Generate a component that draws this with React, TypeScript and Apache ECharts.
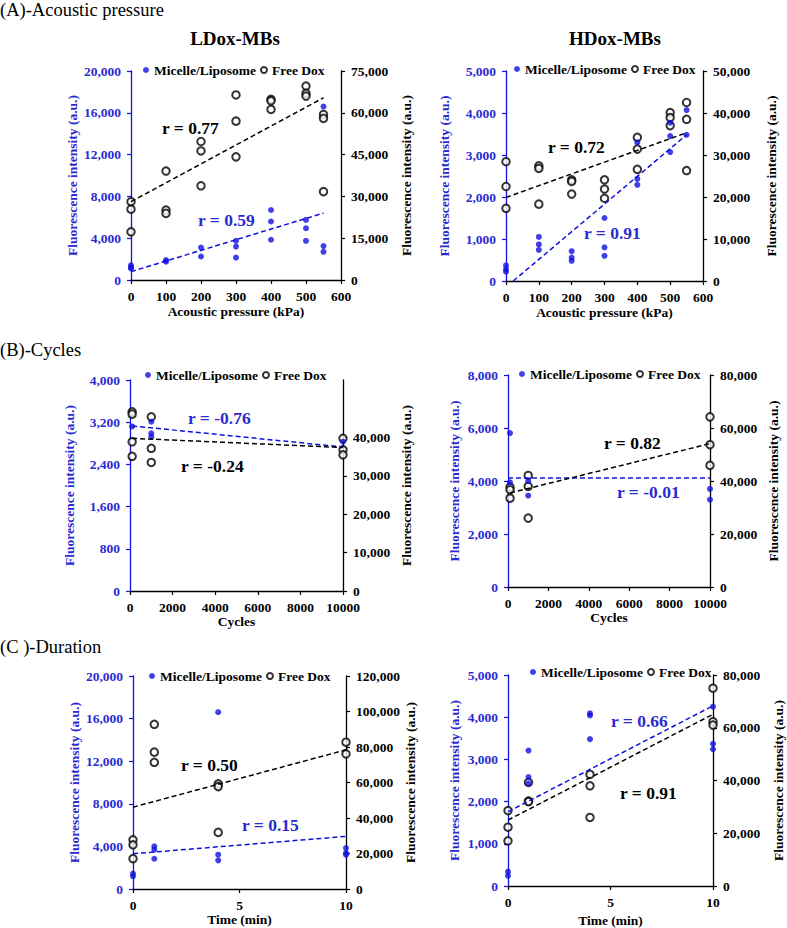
import React, { useEffect, useRef } from "react";
import * as echarts from "echarts";

const BLUE = "#1010e0";
const BLUE_TXT = "#2a2ad2";
const FONT = "Liberation Serif";

// ---------- (A) Acoustic pressure ----------
const ldoxPressBlue = [[0,1400],[0,1200],[0,1100],[100,1900],[100,1750],[200,3100],[200,2250],[300,3750],[300,3200],[300,2150],[400,6700],[400,5600],[400,3850],[500,5750],[500,4950],[500,3750],[550,16600],[550,3250],[550,2700]];
const ldoxPressFree = [[0,28100],[0,25400],[0,17300],[100,39100],[100,25100],[100,23900],[200,49700],[200,46300],[200,33800],[300,66400],[300,57000],[300,44200],[400,64800],[400,64300],[400,61200],[500,69600],[500,67000],[500,66000],[550,59400],[550,58000],[550,31700]];
const ldoxPressBlueFit = [[0,800],[550,6400]];
const ldoxPressFreeFit = [[0,28100],[550,65400]];

const hdoxPressBlue = [[0,370],[0,280],[0,220],[100,1050],[100,870],[100,740],[200,710],[200,560],[200,480],[300,1500],[300,800],[300,600],[400,3300],[400,2430],[400,2290],[500,3770],[500,3450],[500,3070],[550,4070],[550,3480]];
const hdoxPressFree = [[0,28400],[0,22500],[0,17300],[100,27400],[100,26800],[100,18300],[200,24100],[200,23700],[200,20700],[300,24100],[300,21900],[300,19700],[400,34200],[400,31400],[400,26600],[500,40100],[500,38900],[500,37000],[550,42500],[550,38500],[550,26300]];
const hdoxPressBlueFit = [[22,0],[550,3480]];
const hdoxPressFreeFit = [[0,19900],[550,35300]];

// ---------- (B) Cycles ----------
const ldoxCycBlue = [[100,3120],[1000,3210],[1000,2990],[1000,2920],[10000,2830]];
const ldoxCycFree = [[100,46700],[100,46100],[100,38900],[100,35100],[1000,45400],[1000,37200],[1000,33500],[10000,39800],[10000,36800],[10000,35500]];
const ldoxCycBlueFit = [[100,3130],[10000,2730]];
const ldoxCycFreeFit = [[100,39800],[10000,37400]];

const hdoxCycBlue = [[100,5810],[100,3950],[1000,3990],[1000,3450],[10000,3700],[10000,3300]];
const hdoxCycFree = [[100,37700],[100,36700],[100,33500],[1000,42100],[1000,38000],[1000,26000],[10000,64200],[10000,53700],[10000,45900]];
const hdoxCycBlueFit = [[0,4110],[10000,4110]];
const hdoxCycFreeFit = [[100,35500],[10000,54100]];

// ---------- (C) Duration ----------
const ldoxTimeBlue = [[0,1440],[0,1190],[1,4000],[1,3690],[1,2840],[4,16600],[4,3220],[4,2690],[10,3840],[10,3380],[10,3220]];
const ldoxTimeFree = [[0,27700],[0,24900],[0,17100],[1,92800],[1,77100],[1,71400],[4,59200],[4,57700],[4,31900],[10,82700],[10,76100]];
const ldoxTimeBlueFit = [[0,3310],[10,4940]];
const ldoxTimeFreeFit = [[0,46100],[10,78400]];

const hdoxTimeBlue = [[0,340],[0,240],[1,3210],[1,2580],[1,2430],[4,4090],[4,4040],[4,3480],[10,4250],[10,3370],[10,3240]];
const hdoxTimeFree = [[0,28600],[0,22300],[0,17100],[1,39300],[1,32200],[1,32000],[4,42300],[4,38000],[4,26000],[10,75000],[10,62300],[10,61000]];
const hdoxTimeBlueFit = [[0,1760],[10,4270]];
const hdoxTimeFreeFit = [[0,25000],[10,65100]];

const rLabels = ["r = 0.77", "r = 0.59", "r = 0.72", "r = 0.91", "r = -0.24", "r = -0.76", "r = 0.82", "r = -0.01", "r = 0.50", "r = 0.15", "r = 0.91", "r = 0.66"];

const fmt = (v: number) => v.toLocaleString("en-US");

const panels = [
  { grid: { left: 131, top: 71, width: 210, height: 209 },
    x: { max: 600, interval: 100, name: "Acoustic pressure (kPa)", gap: 24 },
    yl: { max: 20000, interval: 4000, gap: 50 }, yr: { max: 75000, interval: 15000, gap: 58 },
    blue: ldoxPressBlue, free: ldoxPressFree, blueFit: ldoxPressBlueFit, freeFit: ldoxPressFreeFit,
    legend: { left: 143, top: 63 },
    rBlack: { t: rLabels[0], x: 162, y: 128 }, rBlue: { t: rLabels[1], x: 198, y: 220 } },
  { grid: { left: 506, top: 71, width: 197, height: 210 },
    x: { max: 600, interval: 100, name: "Acoustic pressure (kPa)", gap: 24 },
    yl: { max: 5000, interval: 1000, gap: 55 }, yr: { max: 50000, interval: 10000, gap: 61 },
    blue: hdoxPressBlue, free: hdoxPressFree, blueFit: hdoxPressBlueFit, freeFit: hdoxPressFreeFit,
    legend: { left: 514, top: 62 },
    rBlack: { t: rLabels[2], x: 548, y: 147 }, rBlue: { t: rLabels[3], x: 584, y: 233 } },
  { grid: { left: 130, top: 380, width: 213, height: 211 },
    x: { max: 10000, interval: 2000, name: "Cycles", gap: 22 },
    yl: { max: 4000, interval: 800, gap: 54 }, yr: { max: 55000, interval: 10000, gap: 56, custom: [0, 10000, 20000, 30000, 40000, 50000] },
    blue: ldoxCycBlue, free: ldoxCycFree, blueFit: ldoxCycBlueFit, freeFit: ldoxCycFreeFit,
    legend: { left: 145, top: 368 },
    rBlack: { t: rLabels[4], x: 181, y: 466 }, rBlue: { t: rLabels[5], x: 188, y: 418 } },
  { grid: { left: 508, top: 375, width: 202, height: 212 },
    x: { max: 10000, interval: 2000, name: "Cycles", gap: 22 },
    yl: { max: 8000, interval: 2000, gap: 47 }, yr: { max: 80000, interval: 20000, gap: 56 },
    blue: hdoxCycBlue, free: hdoxCycFree, blueFit: hdoxCycBlueFit, freeFit: hdoxCycFreeFit,
    legend: { left: 519, top: 367 },
    rBlack: { t: rLabels[6], x: 604, y: 443 }, rBlue: { t: rLabels[7], x: 617, y: 492 } },
  { grid: { left: 133, top: 676, width: 213, height: 213 },
    x: { max: 10, interval: 5, name: "Time (min)", gap: 20 },
    yl: { max: 20000, interval: 4000, gap: 52 }, yr: { max: 120000, interval: 20000, gap: 56 },
    blue: ldoxTimeBlue, free: ldoxTimeFree, blueFit: ldoxTimeBlueFit, freeFit: ldoxTimeFreeFit,
    legend: { left: 149, top: 669 },
    rBlack: { t: rLabels[8], x: 181, y: 765 }, rBlue: { t: rLabels[9], x: 242, y: 825 } },
  { grid: { left: 508, top: 675, width: 205, height: 211 },
    x: { max: 10, interval: 5, name: "Time (min)", gap: 27 },
    yl: { max: 5000, interval: 1000, gap: 47 }, yr: { max: 80000, interval: 20000, gap: 58 },
    blue: hdoxTimeBlue, free: hdoxTimeFree, blueFit: hdoxTimeBlueFit, freeFit: hdoxTimeFreeFit,
    legend: { left: 530, top: 665 },
    rBlack: { t: rLabels[10], x: 620, y: 793 }, rBlue: { t: rLabels[11], x: 611, y: 721 } },
];

const boldText = (size: number, color: string) => ({ fontFamily: FONT, fontWeight: "bold" as const, fontSize: size, color });

function buildOption() {
  const grid = panels.map((p) => ({ ...p.grid, containLabel: false }));
  const xAxis = panels.map((p, i) => ({
    type: "value", gridIndex: i, min: 0, max: p.x.max, interval: p.x.interval,
    name: p.x.name, nameLocation: "middle", nameGap: p.x.gap,
    nameTextStyle: boldText(13.5, "#000"),
    axisLine: { show: true, onZero: false, lineStyle: { color: "#000", width: 1.3 } },
    axisTick: { show: true, inside: false, length: 4, lineStyle: { color: "#000", width: 1.2 } },
    axisLabel: { ...boldText(13.5, "#000"), margin: 9, formatter: (v: number) => String(v) },
    splitLine: { show: false },
  }));
  const yAxis: any[] = [];
  panels.forEach((p, i) => {
    yAxis.push({
      type: "value", gridIndex: i, position: "left", min: 0, max: p.yl.max, interval: p.yl.interval,
      name: "Fluorescence intensity (a.u.)", nameLocation: "middle", nameGap: p.yl.gap, nameRotate: 90,
      nameTextStyle: boldText(13.5, BLUE_TXT),
      axisLine: { show: true, onZero: false, lineStyle: { color: BLUE, width: 1.3 } },
      axisTick: { show: true, inside: false, length: 4, lineStyle: { color: BLUE, width: 1.2 } },
      axisLabel: { ...boldText(13.5, BLUE_TXT), margin: 10, formatter: fmt },
      splitLine: { show: false },
    });
    const custom = (p.yr as any).custom;
    yAxis.push({
      type: "value", gridIndex: i, position: "right", min: 0, max: p.yr.max, interval: p.yr.interval,
      name: "Fluorescence intensity (a.u.)", nameLocation: "middle", nameGap: p.yr.gap, nameRotate: 90,
      nameTextStyle: boldText(13.5, "#000"),
      axisLine: { show: true, onZero: false, lineStyle: { color: "#000", width: 1.3 } },
      axisTick: { show: true, inside: false, length: 4, lineStyle: { color: "#000", width: 1.2 }, ...(custom ? { customValues: custom } : {}) },
      axisLabel: { ...boldText(13.5, "#000"), margin: 10, formatter: fmt, ...(custom ? { customValues: custom, showMaxLabel: false } : {}) },
      splitLine: { show: false },
    });
  });
  const series: any[] = [];
  panels.forEach((p, i) => {
    series.push({
      type: "scatter", name: "Free Dox", xAxisIndex: i, yAxisIndex: 2 * i + 1,
      symbol: "emptyCircle", symbolSize: 7.5,
      itemStyle: { color: "#000", borderColor: "#000", borderWidth: 1 },
      data: p.free,
    });
    series.push({
      type: "scatter", name: "Micelle/Liposome", xAxisIndex: i, yAxisIndex: 2 * i,
      symbol: "circle", symbolSize: 6, itemStyle: { color: BLUE },
      data: p.blue,
    });
    series.push({
      type: "line", name: "fit-blue", xAxisIndex: i, yAxisIndex: 2 * i,
      showSymbol: false, symbol: "none", clip: true,
      lineStyle: { color: BLUE, width: 1.5, type: [5, 3] },
      data: p.blueFit,
    });
    series.push({
      type: "line", name: "fit-free", xAxisIndex: i, yAxisIndex: 2 * i + 1,
      showSymbol: false, symbol: "none", clip: true,
      lineStyle: { color: "#000", width: 1.5, type: [5, 3] },
      data: p.freeFit,
    });
  });
  const legend = panels.map((p) => ({
    left: p.legend.left, top: p.legend.top, padding: 0, itemGap: 4,
    itemWidth: 6, itemHeight: 6, selectedMode: false,
    textStyle: { fontFamily: FONT, fontWeight: "bold", fontSize: 13.5, color: "#000" },
    data: [
      { name: "Micelle/Liposome", icon: "circle", itemStyle: { color: BLUE } },
      { name: "Free Dox", icon: "emptyCircle", itemStyle: { color: "#000", borderColor: "#000", borderWidth: 1.2 } },
    ],
  }));
  const txt = (x: number, y: number, text: string, font: string, fill: string, align = "left") => ({
    type: "text", x, y, silent: true,
    style: { text, font, fill, textAlign: align, textVerticalAlign: "middle" },
  });
  const graphic: any[] = [
    txt(0, 10, "(A)-Acoustic pressure", `18.5px ${FONT}`, "#000"),
    txt(0, 350, "(B)-Cycles", `18.5px ${FONT}`, "#000"),
    txt(0, 647, "(C )-Duration", `18.5px ${FONT}`, "#000"),
    txt(235, 38, "LDox-MBs", `bold 19px ${FONT}`, "#000", "center"),
    txt(615, 38, "HDox-MBs", `bold 19px ${FONT}`, "#000", "center"),
  ];
  panels.forEach((p) => {
    graphic.push(txt(p.rBlack.x, p.rBlack.y, p.rBlack.t, `bold 17.5px ${FONT}`, "#000"));
    graphic.push(txt(p.rBlue.x, p.rBlue.y, p.rBlue.t, `bold 17.5px ${FONT}`, BLUE_TXT));
  });
  return { animation: false, backgroundColor: "#fff", grid, xAxis, yAxis, series, legend, graphic };
}

export default function App() {
  const ref = useRef<HTMLDivElement>(null);
  useEffect(() => {
    if (!ref.current) return;
    const chart = echarts.init(ref.current, undefined, { renderer: "svg" });
    chart.setOption(buildOption() as any);
    return () => chart.dispose();
  }, []);
  return <div ref={ref} style={{ position: "absolute", left: 0, top: 0, width: 787, height: 928 }} />;
}
